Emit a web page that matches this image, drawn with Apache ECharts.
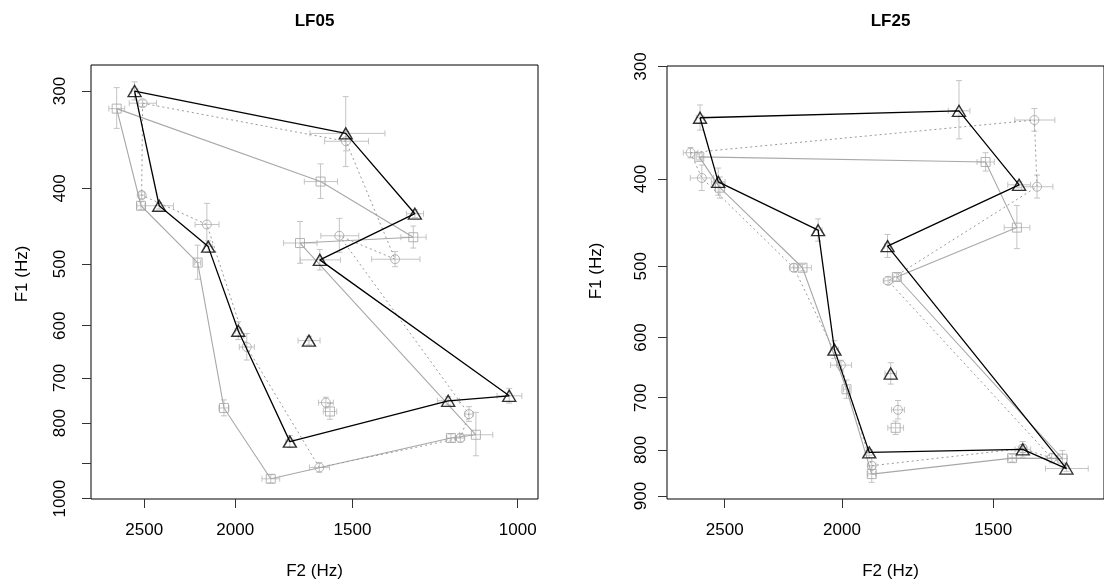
<!DOCTYPE html>
<html><head><meta charset="utf-8">
<script src="https://cdn.jsdelivr.net/npm/echarts@6/dist/echarts.min.js"></script>
<style>html,body{margin:0;padding:0;background:#fff}#c{width:1104px;height:584px}</style>
</head><body><div id="c"></div>
<script>
// ---------- LF05 (left panel) ----------
// order: 10 vowels forming the polygon, then the isolated central vowel
const lf05TriF2   = [2560,1525,1287,1625,1021,1186,1749,1985,2137,2410,1669];
const lf05TriF1   = [300,340,431,494,738,749,845,609,475,421,627];
const lf05TriF2sd = [20,140,27,80,31,32,17,15,21,83,45];
const lf05TriF1sd = [8,35,5,15,16,9,15,16,8,4,8];

const lf05CirF2   = [2510,1524,1351,1549,1127,1151,1627,1944,2144,2516,1601];
const lf05CirF1   = [311,348,493,460,779,836,912,639,445,408,753];
const lf05CirF2sd = [84,82,80,72,11,11,40,36,63,18,29];
const lf05CirF1sd = [3,10,11,23,17,10,13,25,27,4,12];

const lf05SqrF2   = [2675,1622,1292,1706,1108,1178,1833,2056,2193,2520,1585];
const lf05SqrF1   = [316,392,462,470,828,836,943,765,498,421,773];
const lf05SqrF2sd = [52,66,40,70,45,12,40,25,16,25,26];
const lf05SqrF1sd = [19,20,15,29,53,10,11,18,25,5,18];

// ---------- LF25 (right panel) ----------
const lf25TriF2   = [2620,1601,1428,1834,1305,1418,1899,2029,2093,2531,1823];
const lf25TriF1   = [342,336,406,475,839,799,805,619,456,403,658];
const lf25TriF2sd = [19,33,31,10,53,21,11,15,16,33,20];
const lf25TriF1sd = [11,25,3,14,6,16,6,14,13,14,18];

const lf25CirF2   = [2668,1387,1380,1832,1342,1418,1890,2004,2192,2611,1798];
const lf25CirF1   = [374,344,408,519,817,797,833,644,502,399,722];
const lf25CirF2sd = [37,53,41,17,12,10,14,40,16,58,22];
const lf25CirF1sd = [5,10,12,5,10,8,17,8,5,13,17];

const lf25SqrF2   = [2624,1522,1434,1802,1315,1447,1890,1983,2156,2523,1806];
const lf25SqrF1   = [378,383,453,514,818,817,851,685,502,409,756];
const lf25SqrF2sd = [15,25,35,13,12,11,14,11,36,23,27];
const lf25SqrF1sd = [3,9,25,5,17,8,18,16,4,11,13];

// ---------- ticks ----------
const lf05XTicks = [2500,2000,1500,1000];
const lf05YTicks = [300,400,500,600,700,800,900,1000];
const lf05YLabels = [300,400,500,600,700,800,1000];
const lf25XTicks = [2500,2000,1500];
const lf25YTicks = [300,400,500,600,700,800,900];
const lf25YLabels = [300,400,500,600,700,800,900];
const titles = ['LF05','LF25'];
const xName = 'F2 (Hz)', yName = 'F1 (Hz)';

const FONT = 'Liberation Sans, Arial, Helvetica, sans-serif';
const ERR = '#c4c4c4';
const GRAYPT = '#a2a2a2';

function errRender(params, api) {
  const x = api.value(0), y = api.value(1), dx = api.value(2), dy = api.value(3);
  const L = api.coord([x + dx, y]), R = api.coord([x - dx, y]);
  const T = api.coord([x, y - dy]), B = api.coord([x, y + dy]);
  const c = 3;
  const ln = (x1, y1, x2, y2) => ({type: 'line', shape: {x1, y1, x2, y2}, style: {stroke: ERR, lineWidth: 1}});
  return {type: 'group', children: [
    ln(L[0], L[1], R[0], R[1]), ln(L[0], L[1] - c, L[0], L[1] + c), ln(R[0], R[1] - c, R[0], R[1] + c),
    ln(T[0], T[1], B[0], B[1]), ln(T[0] - c, T[1], T[0] + c, T[1]), ln(B[0] - c, B[1], B[0] + c, B[1])
  ]};
}

function groupSeries(gi, f2, f1, s2, s1, kind) {
  const pts = f2.map((v, i) => [v, f1[i]]);
  const loop = [0,1,2,3,4,5,6,7,8,9,0].map(i => pts[i]);
  const out = [];
  out.push({type: 'custom', xAxisIndex: gi, yAxisIndex: gi, renderItem: errRender, silent: true, z: 1,
    encode: {x: 0, y: 1}, data: f2.map((v, i) => [v, f1[i], s2[i], s1[i]])});
  let ls, sym, size, border;
  if (kind === 'tri') { ls = {color: '#000', width: 1.3, type: 'solid'}; sym = 'triangle'; size = [13, 11]; border = '#000'; }
  else if (kind === 'cir') { ls = {color: '#9a9a9a', width: 1, type: [2, 3]}; sym = 'circle'; size = 9; border = GRAYPT; }
  else { ls = {color: '#a8a8a8', width: 1.1, type: 'solid'}; sym = 'rect'; size = 9; border = GRAYPT; }
  out.push({type: 'line', xAxisIndex: gi, yAxisIndex: gi, data: loop, symbol: 'none', lineStyle: ls, silent: true, z: kind === 'tri' ? 4 : 2});
  out.push({type: 'scatter', xAxisIndex: gi, yAxisIndex: gi, data: pts, symbol: sym, symbolSize: size, silent: true, z: kind === 'tri' ? 5 : 3,
    itemStyle: {color: 'rgba(0,0,0,0)', borderColor: border, borderWidth: kind === 'tri' ? 1.4 : 1}});
  return out;
}

function xAx(gi, min, max, ticks) {
  return {type: 'log', logBase: 10, gridIndex: gi, inverse: true, min, max,
    axisLine: {show: false}, splitLine: {show: false}, minorTick: {show: false},
    axisTick: {show: true, customValues: ticks, length: 9, lineStyle: {color: '#333'}},
    axisLabel: {customValues: ticks, formatter: v => String(Math.round(v)), margin: 23, fontSize: 17, color: '#000', fontFamily: FONT}};
}
function yAx(gi, min, max, ticks, labels, margin) {
  return {type: 'log', logBase: 10, gridIndex: gi, inverse: true, min, max,
    axisLine: {show: false}, splitLine: {show: false}, minorTick: {show: false},
    axisTick: {show: true, customValues: ticks, length: 9, lineStyle: {color: '#333'}},
    axisLabel: {customValues: labels, formatter: v => String(Math.round(v)), rotate: 90, margin, fontSize: 17, color: '#000', fontFamily: FONT}};
}

function txt(x, y, text, bold, rot) {
  return {type: 'text', x, y, rotation: rot || 0, silent: true,
    style: {text, fontSize: 17, fontWeight: bold ? 'bold' : 'normal', fontFamily: FONT, fill: '#000',
      textAlign: 'center', textVerticalAlign: 'middle', align: 'center', verticalAlign: 'middle'}};
}

const series = [].concat(
  groupSeries(0, lf05SqrF2, lf05SqrF1, lf05SqrF2sd, lf05SqrF1sd, 'sqr'),
  groupSeries(0, lf05CirF2, lf05CirF1, lf05CirF2sd, lf05CirF1sd, 'cir'),
  groupSeries(0, lf05TriF2, lf05TriF1, lf05TriF2sd, lf05TriF1sd, 'tri'),
  groupSeries(1, lf25SqrF2, lf25SqrF1, lf25SqrF2sd, lf25SqrF1sd, 'sqr'),
  groupSeries(1, lf25CirF2, lf25CirF1, lf25CirF2sd, lf25CirF1sd, 'cir'),
  groupSeries(1, lf25TriF2, lf25TriF1, lf25TriF2sd, lf25TriF1sd, 'tri')
);

const chart = echarts.init(document.getElementById('c'), null, {renderer: 'canvas'});
chart.setOption({
  animation: false,
  backgroundColor: '#fff',
  grid: [
    {left: 91, top: 65, width: 447, height: 434, show: true, borderColor: '#000', borderWidth: 1, backgroundColor: 'transparent'},
    {left: 667, top: 66, width: 447, height: 433, show: true, borderColor: '#000', borderWidth: 1, backgroundColor: 'transparent'}
  ],
  xAxis: [xAx(0, 951.4, 2849, lf05XTicks), xAx(1, 1215, 2790, lf25XTicks)],
  yAxis: [yAx(0, 277.8, 1001, lf05YTicks, lf05YLabels, 22), yAx(1, 299.6, 907, lf25YTicks, lf25YLabels, 17)],
  graphic: [
    txt(314.5, 21, titles[0], true), txt(890.5, 21, titles[1], true),
    txt(314.5, 571, xName), txt(890.5, 571, xName),
    txt(22, 274, yName, false, Math.PI / 2), txt(596.5, 271, yName, false, Math.PI / 2)
  ],
  series
});
</script></body></html>
